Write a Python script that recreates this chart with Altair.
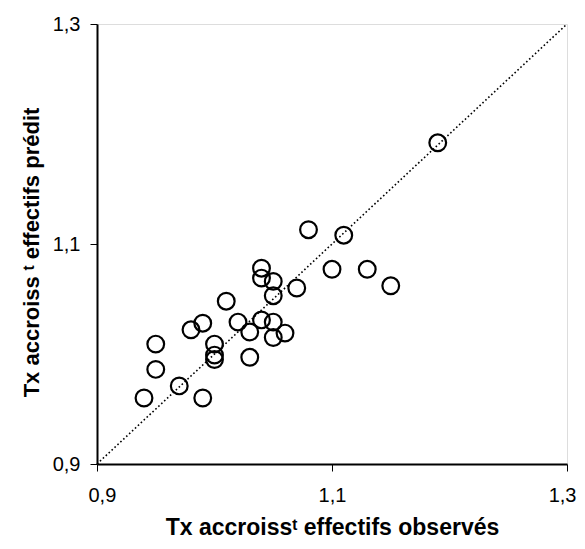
import altair as alt
import pandas as pd

observed = [1.08, 1.11, 1.04, 1.04, 1.05, 1.10, 1.13, 1.07, 1.15, 1.05,
            1.01, 0.99, 0.98, 1.02, 1.04, 1.05, 1.03, 1.06, 1.05, 0.95,
            1.00, 1.00, 1.00, 1.03, 0.95, 0.97, 0.94, 0.99, 1.19]
predicted = [1.113, 1.108, 1.078, 1.069, 1.066, 1.077, 1.077, 1.060, 1.062, 1.053,
             1.048, 1.028, 1.022, 1.029, 1.031, 1.029, 1.020, 1.019, 1.015, 1.009,
             1.009, 0.999, 0.995, 0.997, 0.986, 0.971, 0.960, 0.960, 1.192]
diagonal = [0.9, 1.3]
tick_values = [0.9, 1.1, 1.3]

x_title = "Tx accroissᵗ effectifs observés"
y_title = "Tx accroiss ᵗ effectifs prédit"

points = pd.DataFrame({"obs": observed, "pred": predicted})
line_df = pd.DataFrame({"obs": diagonal, "pred": diagonal})

label_expr = "replace(format(datum.value, '.1f'), '.', ',')"
FONT = "Liberation Sans"

def x_axis():
    return alt.Axis(values=tick_values, labelExpr=label_expr, title=x_title, grid=False,
                    tickSize=7, tickColor="black", tickWidth=1,
                    domainColor="black", domainWidth=2,
                    labelFont=FONT, labelFontSize=20, labelColor="black", labelPadding=14,
                    labelFlush=True, labelFlushOffset=9,
                    titleFont=FONT, titleFontSize=23, titleFontWeight="bold", titleColor="black",
                    titleBaseline="alphabetic", titleAlign="center", titleX=235, titleY=70)

def y_axis():
    return alt.Axis(values=tick_values, labelExpr=label_expr, title=y_title, grid=False,
                    tickSize=7, tickColor="black", tickWidth=1,
                    domainColor="black", domainWidth=2,
                    labelFont=FONT, labelFontSize=20, labelColor="black", labelPadding=10,
                    labelFlush=False,
                    titleFont=FONT, titleFontSize=22, titleFontWeight="bold", titleColor="black",
                    titleAngle=270, titleBaseline="alphabetic", titleAlign="center",
                    titleX=-59, titleY=228)

xs = alt.Scale(domain=[0.9, 1.3], nice=False, zero=False)
ys = alt.Scale(domain=[0.9, 1.3], nice=False, zero=False)

pts = alt.Chart(points).mark_point(
    shape="circle", filled=False, size=280, strokeWidth=2.2, color="black", opacity=1
).encode(
    x=alt.X("obs:Q", scale=xs, axis=x_axis()),
    y=alt.Y("pred:Q", scale=ys, axis=y_axis()),
)

line = alt.Chart(line_df).mark_line(
    color="black", strokeDash=[1.6, 2.4], strokeWidth=1.6
).encode(
    x=alt.X("obs:Q", scale=xs, axis=x_axis()),
    y=alt.Y("pred:Q", scale=ys, axis=y_axis()),
)

chart = alt.layer(pts, line).properties(
    width=470, height=440,
    autosize=alt.AutoSizeParams(type="none"),
    padding={"left": 89, "top": 16, "right": 10, "bottom": 77},
).configure_view(stroke="#808080", strokeWidth=1.5).configure(background="white")

chart.save("out.html", embed_options={"renderer": "svg", "actions": False})
